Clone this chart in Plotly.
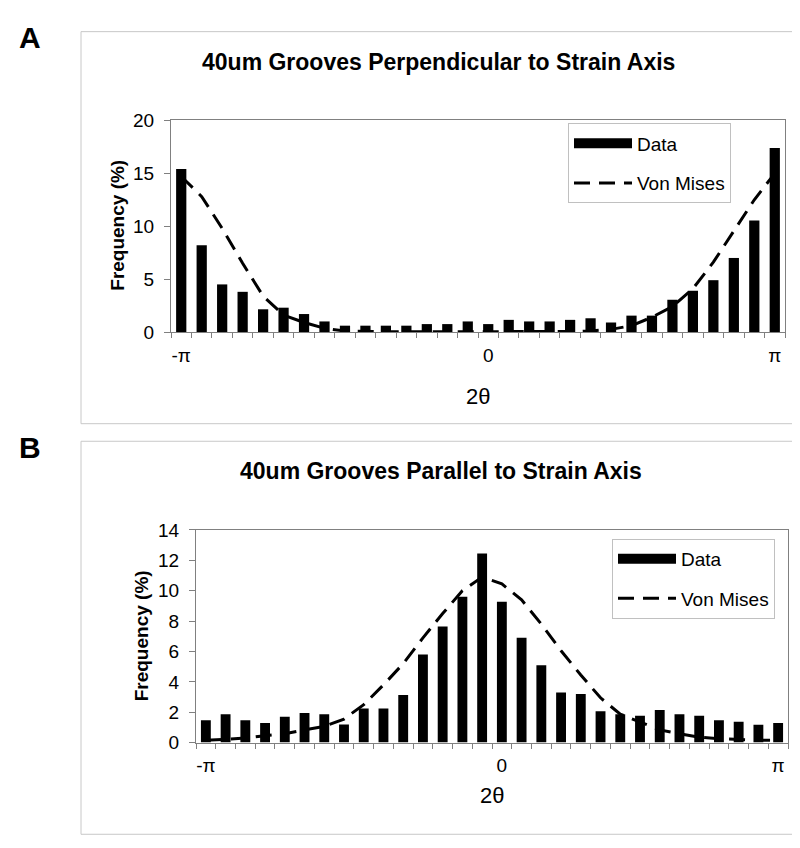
import plotly.graph_objects as go

# ---------------- data ----------------
bin_deg = [-180, -168, -156, -144, -132, -120, -108, -96, -84, -72,
           -60, -48, -36, -24, -12, 0, 12, 24, 36, 48,
           60, 72, 84, 96, 108, 120, 132, 144, 156, 168]
tick_text = ["-π"] + [""] * 14 + ["0"] + [""] * 13 + ["π"]

perp_data = [15.4, 8.2, 4.5, 3.8, 2.15, 2.3, 1.7, 1.0, 0.6, 0.6,
             0.6, 0.6, 0.75, 0.75, 1.0, 0.75, 1.15, 1.0, 1.0, 1.15,
             1.3, 0.9, 1.55, 1.55, 3.05, 3.9, 4.9, 7.0, 10.55, 17.4]
perp_vm = [14.7, 12.8, 9.8, 6.5, 3.4, 1.6, 0.9, 0.35, 0.1, 0.05,
           0.03, 0.02, 0.02, 0.02, 0.02, 0.02, 0.02, 0.02, 0.03, 0.05,
           0.1, 0.25, 0.6, 1.4, 2.4, 4.1, 6.6, 9.5, 12.5, 15.0]

par_data = [1.48, 1.87, 1.48, 1.29, 1.7, 1.95, 1.87, 1.2, 2.25, 2.25,
            3.13, 5.8, 7.64, 9.6, 12.45, 9.27, 6.9, 5.1, 3.3, 3.2,
            2.06, 1.87, 1.76, 2.15, 1.87, 1.76, 1.48, 1.37, 1.18, 1.29]
par_vm = [0.15, 0.2, 0.3, 0.45, 0.58, 0.84, 1.07, 1.55, 2.5, 3.8,
          5.2, 6.9, 8.5, 10.0, 10.9, 10.45, 9.4, 7.8, 6.05, 4.45,
          2.95, 1.87, 1.33, 0.84, 0.58, 0.36, 0.26, 0.2, 0.15, 0.15]

cats = [str(d) for d in bin_deg]

W, H = 800, 848
def px(x):
    return x / W
def py(y):
    return 1 - y / H

FONT = "Liberation Sans, Arial, sans-serif"
GRAY = "#808080"
DASH = "16px,9px"

fig = go.Figure()

# Panel A
fig.add_trace(go.Bar(x=cats, y=perp_data, marker=dict(color="black", line_width=0),
                     showlegend=False, xaxis="x", yaxis="y"))
fig.add_trace(go.Scatter(x=[None], y=[None], mode="lines", name="Data",
                         line=dict(color="black", width=13),
                         legend="legend", legendgroup="a1", xaxis="x", yaxis="y"))
fig.add_trace(go.Scatter(x=cats, y=perp_vm, mode="lines", name="Von Mises",
                         line=dict(color="black", width=3, dash=DASH),
                         legend="legend", legendgroup="a2", xaxis="x", yaxis="y"))

# Panel B
fig.add_trace(go.Bar(x=cats, y=par_data, marker=dict(color="black", line_width=0),
                     showlegend=False, xaxis="x2", yaxis="y2"))
fig.add_trace(go.Scatter(x=[None], y=[None], mode="lines", name="Data",
                         line=dict(color="black", width=13),
                         legend="legend2", legendgroup="b1", xaxis="x2", yaxis="y2"))
fig.add_trace(go.Scatter(x=cats, y=par_vm, mode="lines", name="Von Mises",
                         line=dict(color="black", width=3, dash=DASH),
                         legend="legend2", legendgroup="b2", xaxis="x2", yaxis="y2"))

xcommon = dict(type="category", tickmode="array", tickvals=cats, ticktext=tick_text,
               tickson="boundaries", ticks="outside", ticklen=5, tickcolor=GRAY,
               tickangle=0,
               showline=True, linecolor=GRAY, linewidth=1, mirror=True,
               showgrid=False, zeroline=False, ticklabelstandoff=6,
               tickfont=dict(family=FONT, size=19, color="black"))
ycommon = dict(ticks="outside", ticklen=6, tickcolor=GRAY,
               showline=True, linecolor=GRAY, linewidth=1, mirror=True,
               showgrid=False, zeroline=False, ticklabelstandoff=6,
               tickfont=dict(family=FONT, size=19, color="black"))

legcommon = dict(xanchor="left", yanchor="top", bgcolor="white",
                 bordercolor="#c0c0c0", borderwidth=1, itemwidth=58,
                 traceorder="grouped", tracegroupgap=12,
                 font=dict(family=FONT, size=19, color="black"))

fig.update_layout(
    width=W, height=H, margin=dict(l=0, r=0, t=0, b=0),
    paper_bgcolor="white", plot_bgcolor="white",
    bargap=0.5,
    xaxis=dict(domain=[px(163), px(777)], anchor="y", **xcommon),
    yaxis=dict(domain=[py(322), py(105)], anchor="x", range=[0, 20],
               tickvals=[0, 5, 10, 15, 20], **ycommon),
    xaxis2=dict(domain=[px(188), px(780)], anchor="y2", **xcommon),
    yaxis2=dict(domain=[py(743), py(525)], anchor="x2", range=[0, 14],
                tickvals=[0, 2, 4, 6, 8, 10, 12, 14], **ycommon),
    legend=dict(x=px(560), y=py(108), **legcommon),
    legend2=dict(x=px(604), y=py(534), **legcommon),
)

# panel frames
for (x0, y0, x1, y1) in [(73, 14, 790, 416), (73, 434, 790, 837)]:
    fig.add_shape(type="rect", xref="paper", yref="paper",
                  x0=px(x0), x1=px(x1), y0=py(y1), y1=py(y0),
                  line=dict(color="#c8c8c8", width=1), layer="below")

def ann(text, x, y, size, bold=False, angle=0, family=FONT):
    fig.add_annotation(text=f"<b>{text}</b>" if bold else text,
                       xref="paper", yref="paper", x=px(x), y=py(y),
                       xanchor="center", yanchor="middle", showarrow=False,
                       textangle=angle,
                       font=dict(family=family, size=size, color="black"))

ann("A", 22, 20, 30, bold=True)
ann("B", 22, 440, 30, bold=True)
ann("40um Grooves Perpendicular to Strain Axis", 430, 45, 23, bold=True)
ann("40um Grooves Parallel to Strain Axis", 433, 465, 23, bold=True)
ann("Frequency (%)", 110, 213, 19, bold=True, angle=-90)
ann("Frequency (%)", 133, 634, 19, bold=True, angle=-90)
ann("2θ", 470, 388, 22)
ann("2θ", 484, 797, 22)

fig.write_html("out.html")
